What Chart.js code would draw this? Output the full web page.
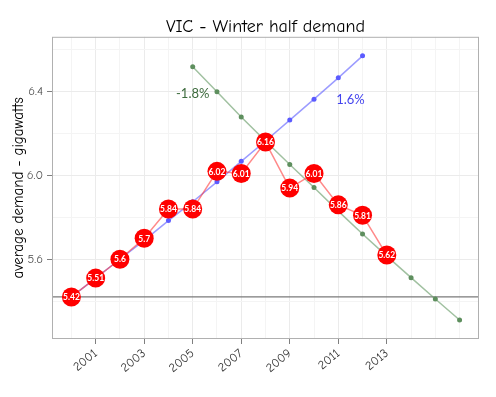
<!DOCTYPE html>
<html>
<head>
<meta charset="utf-8">
<script src="https://cdn.jsdelivr.net/npm/chart.js@4.4.1/dist/chart.umd.min.js"></script>
<style>
  html, body { margin: 0; padding: 0; background: #fff; }
  #box { width: 496px; height: 397px; }
</style>
</head>
<body>
<div id="box"><canvas id="grafico"></canvas></div>
<script>
// datos
var years = [2000, 2001, 2002, 2003, 2004, 2005, 2006, 2007, 2008, 2009, 2010, 2011, 2012, 2013];
var demand = [5.42, 5.51, 5.60, 5.70, 5.84, 5.84, 6.02, 6.01, 6.16, 5.94, 6.01, 5.86, 5.81, 5.62];

var upYears = [2000, 2001, 2002, 2003, 2004, 2005, 2006, 2007, 2008, 2009, 2010, 2011, 2012];
var upTrend = [5.42, 5.51, 5.60, 5.69, 5.785, 5.875, 5.97, 6.068, 6.165, 6.265, 6.365, 6.467, 6.572];

var downYears = [2005, 2006, 2007, 2008, 2009, 2010, 2011, 2012, 2013, 2014, 2015, 2016];
var downTrend = [6.52, 6.40, 6.28, 6.165, 6.053, 5.943, 5.83, 5.721, 5.615, 5.512, 5.41, 5.31];

var baseline = 5.42;
var upLabel = { text: '1.6%', x: 2011.5, y: 6.36 };
var downLabel = { text: '-1.8%', x: 2005, y: 6.39 };

var xTickLabels = [2001, 2003, 2005, 2007, 2009, 2011, 2013];
var yTickLabels = [5.6, 6.0, 6.4];
var yGrid = [5.4, 5.6, 5.8, 6.0, 6.2, 6.4, 6.6];

var fuente = "'Comic Sans MS', 'Comic Neue', Lato, sans-serif";

function pares(xs, ys) {
  return xs.map(function (x, i) { return { x: x, y: ys[i] }; });
}

function esEtiquetaX(v) {
  return xTickLabels.indexOf(Math.round(v)) >= 0;
}
function esEtiquetaY(v) {
  return yTickLabels.some(function (t) { return Math.abs(t - v) < 1e-6; });
}

// linea horizontal, borde del panel y textos
var extras = {
  id: 'extras',
  beforeDatasetsDraw: function (chart) {
    var c = chart.ctx, a = chart.chartArea;
    var y = chart.scales.y.getPixelForValue(baseline);
    c.save();
    c.strokeStyle = '#7a7a7a';
    c.lineWidth = 1.3;
    c.beginPath();
    c.moveTo(a.left, y);
    c.lineTo(a.right, y);
    c.stroke();
    c.restore();
  },
  afterDatasetsDraw: function (chart) {
    var c = chart.ctx, a = chart.chartArea;
    var sx = chart.scales.x, sy = chart.scales.y;
    c.save();
    // etiquetas de los puntos rojos
    var meta = chart.getDatasetMeta(0);
    c.fillStyle = '#ffffff';
    c.font = 'bold 8.5px Lato, sans-serif';
    c.textAlign = 'center';
    c.textBaseline = 'middle';
    meta.data.forEach(function (pt, i) {
      c.fillText(String(demand[i]), pt.x, pt.y + 0.5);
    });
    // porcentajes
    c.font = '13px Lato, sans-serif';
    c.fillStyle = '#3d6b3d';
    c.fillText(downLabel.text, sx.getPixelForValue(downLabel.x), sy.getPixelForValue(downLabel.y));
    c.fillStyle = '#4444ee';
    c.fillText(upLabel.text, sx.getPixelForValue(upLabel.x), sy.getPixelForValue(upLabel.y));
    // borde
    c.strokeStyle = '#b0b0b0';
    c.lineWidth = 1;
    c.strokeRect(a.left + 0.5, a.top + 0.5, a.right - a.left - 1, a.bottom - a.top - 1);
    c.restore();
  }
};

var ctx = document.getElementById('grafico').getContext('2d');
var chart = new Chart(ctx, {
  type: 'line',
  data: {
    datasets: [{
      data: pares(years, demand),
      borderColor: 'rgba(255, 60, 60, 0.6)',
      borderWidth: 1.5,
      pointBackgroundColor: '#ff0000',
      pointBorderColor: '#ff0000',
      pointBorderWidth: 0,
      pointRadius: 9.5,
      tension: 0
    }, {
      data: pares(upYears, upTrend),
      borderColor: 'rgba(90, 90, 255, 0.6)',
      borderWidth: 1.5,
      pointBackgroundColor: '#5b5bff',
      pointBorderWidth: 0,
      pointRadius: 2.5,
      tension: 0
    }, {
      data: pares(downYears, downTrend),
      borderColor: 'rgba(110, 160, 110, 0.65)',
      borderWidth: 1.5,
      pointBackgroundColor: '#5e8f5e',
      pointBorderWidth: 0,
      pointRadius: 2.5,
      tension: 0
    }]
  },
  options: {
    responsive: true,
    maintainAspectRatio: false,
    animation: false,
    layout: { padding: { left: 0, right: 17, top: 0, bottom: 0 } },
    plugins: {
      legend: { display: false },
      tooltip: { enabled: false },
      title: {
        display: true,
        text: 'VIC - Winter half demand',
        fullSize: false,
        color: '#000',
        font: { size: 18, family: fuente, weight: 'normal', lineHeight: 1.1 },
        padding: { top: 17, bottom: 0 }
      }
    },
    scales: {
      x: {
        type: 'linear',
        min: 1999.2,
        max: 2016.8,
        afterBuildTicks: function (s) {
          var t = [];
          for (var v = 2000; v <= 2016; v++) t.push({ value: v });
          s.ticks = t;
        },
        afterFit: function (s) { s.height = 58; },
        border: { display: false },
        grid: {
          color: function (c) { return esEtiquetaX(c.tick.value) ? '#ebebeb' : '#f4f4f4'; },
          tickColor: function (c) { return esEtiquetaX(c.tick.value) ? '#7f7f7f' : 'rgba(0,0,0,0)'; },
          tickLength: 5
        },
        ticks: {
          autoSkip: false,
          maxRotation: 40,
          minRotation: 40,
          padding: 2,
          color: '#333',
          font: { size: 12.5, family: fuente },
          callback: function (v) { return esEtiquetaX(v) ? String(v) : ''; }
        }
      },
      y: {
        min: 5.219,
        max: 6.663,
        afterBuildTicks: function (s) {
          s.ticks = yGrid.map(function (v) { return { value: v }; });
        },
        afterFit: function (s) { s.width = 52; },
        border: { display: false },
        grid: {
          color: function (c) { return esEtiquetaY(c.tick.value) ? '#ebebeb' : '#f4f4f4'; },
          tickColor: function (c) { return esEtiquetaY(c.tick.value) ? '#7f7f7f' : 'rgba(0,0,0,0)'; },
          tickLength: 5
        },
        title: {
          display: true,
          text: 'average demand - gigawatts',
          color: '#000',
          font: { size: 15, family: fuente },
          padding: { top: 10, bottom: 0 }
        },
        ticks: {
          padding: 4,
          color: '#4d4d4d',
          font: { size: 12.5, family: fuente },
          callback: function (v) { return esEtiquetaY(v) ? v.toFixed(1) : ''; }
        }
      }
    }
  },
  plugins: [extras]
});
</script>
</body>
</html>
